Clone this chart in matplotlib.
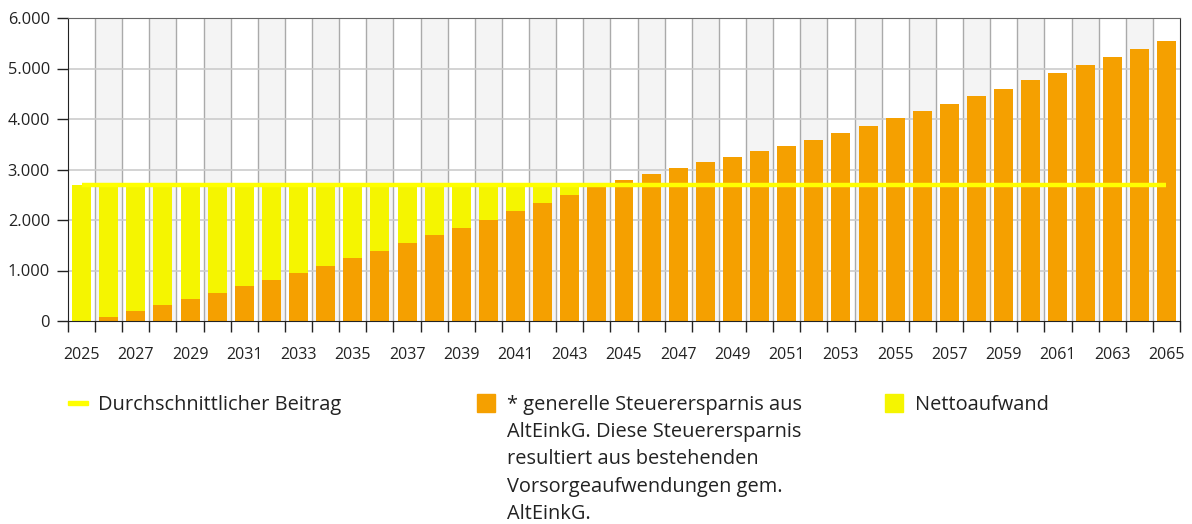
import matplotlib.pyplot as plt
import matplotlib.patches as mpatches
from matplotlib.ticker import FuncFormatter
import numpy as np

plt.rcParams['font.family'] = ['Open Sans', 'DejaVu Sans']

# data
years = list(range(2025, 2066))
steuerersparnis = [0, 85, 205, 325, 444, 563, 702, 821, 960, 1099,
                   1238, 1377, 1536, 1695, 1834, 1993, 2172, 2331, 2490, 2650,
                   2788, 2907, 3026, 3146, 3245, 3364, 3464, 3583, 3722, 3861,
                   4020, 4159, 4298, 4457, 4596, 4775, 4914, 5073, 5232, 5391,
                   5550]
beitrag = 2700
nettoaufwand = [max(beitrag - s, 0) for s in steuerersparnis]

orange = '#F5A000'
yellow = '#F5F500'
line_yellow = '#FFFF00'

fig = plt.figure(figsize=(11.92, 5.24), dpi=100)
W, H = 1192, 524
ax = fig.add_axes([68 / W, (H - 321) / H, (1180 - 68) / W, (321 - 18) / H])

x = np.arange(len(years))

# alternating column background
for i in x:
    if i % 2 == 1:
        ax.axvspan(i - 0.5, i + 0.5, color='#f4f4f4', zorder=0, lw=0)
for i in x[:-1]:
    ax.axvline(i + 0.5, color='#aaaaaa', lw=1, zorder=1)
for yv in range(1000, 6000, 1000):
    ax.axhline(yv, color='#cccccc', lw=1.2, zorder=1)

ax.bar(x, steuerersparnis, width=0.7, color=orange, zorder=2)
ax.bar(x, nettoaufwand, width=0.7, bottom=steuerersparnis, color=yellow, zorder=2)
ax.plot(x, [beitrag] * len(x), color=line_yellow, lw=3.2, zorder=3, solid_capstyle='butt')

ax.set_xlim(-0.5, len(years) - 0.5)
ax.set_ylim(0, 6000)
ax.set_yticks(range(0, 6001, 1000))
ax.yaxis.set_major_formatter(FuncFormatter(lambda v, p: f'{int(v):,}'.replace(',', '.')))
ax.tick_params(axis='y', length=8, width=1, labelsize=11.8, colors='#222222', pad=5)

ax.set_xticks(x[::2])
ax.set_xticklabels([str(y) for y in years[::2]])
ax.set_xticks(np.arange(-0.5, len(years)), minor=True)
ax.tick_params(axis='x', which='major', length=0, labelsize=11.5, colors='#222222', pad=19)
ax.tick_params(axis='x', which='minor', length=8, width=1, color='#222222')

ax.spines['left'].set_color('#222222')
ax.spines['bottom'].set_color('#222222')
ax.spines['top'].set_color('#666666')
ax.spines['right'].set_color('#333333')

# legend drawn by hand below the chart
fs = 14.4
fig.add_artist(mpatches.Rectangle((68 / W, 1 - 405 / H), 20 / W, 4 / H,
                                  color=line_yellow, transform=fig.transFigure))
fig.text(98 / W, 1 - 405 / H, 'Durchschnittlicher Beitrag', fontsize=fs,
         va='center', color='#222222')

fig.add_artist(mpatches.Rectangle((477 / W, 1 - 412 / H), 18 / W, 18 / H,
                                  color=orange, transform=fig.transFigure))
fig.text(507 / W, 1 - 395 / H,
         '* generelle Steuerersparnis aus\nAltEinkG. Diese Steuerersparnis\n'
         'resultiert aus bestehenden\nVorsorgeaufwendungen gem.\nAltEinkG.',
         fontsize=fs, va='top', linespacing=1.48, color='#222222')

fig.add_artist(mpatches.Rectangle((885 / W, 1 - 412 / H), 18 / W, 18 / H,
                                  color=yellow, transform=fig.transFigure))
fig.text(915 / W, 1 - 405 / H, 'Nettoaufwand', fontsize=fs, va='center', color='#222222')

fig.savefig('out.png', dpi=100)
